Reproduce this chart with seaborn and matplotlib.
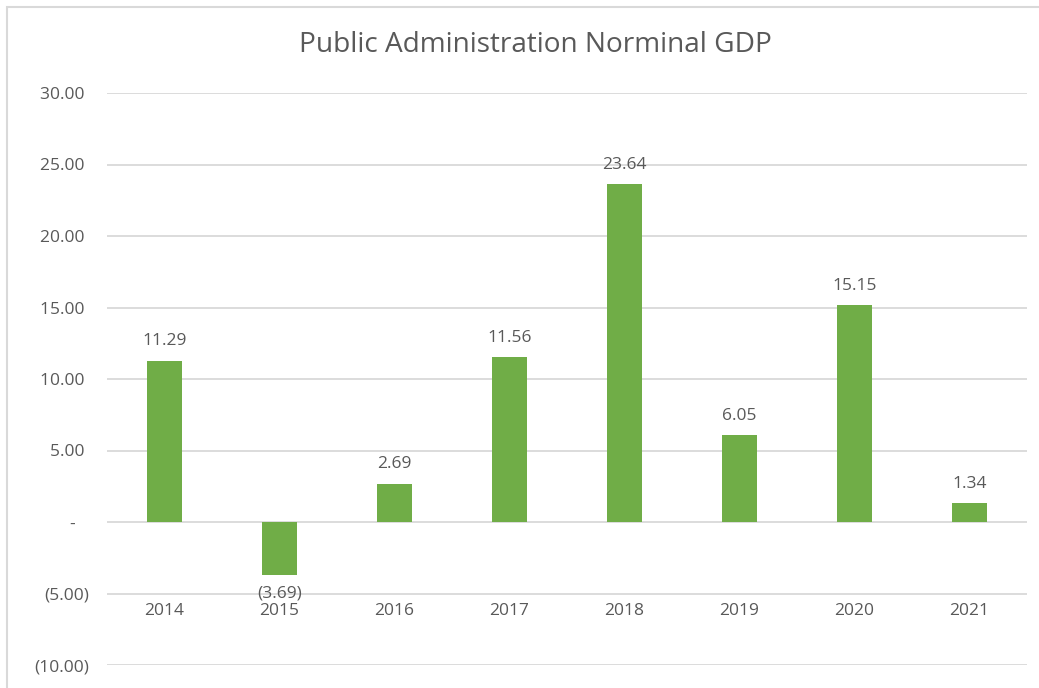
import matplotlib
matplotlib.use("Agg")
import matplotlib.pyplot as plt
import matplotlib.ticker as mticker
from matplotlib.patches import Rectangle
import seaborn as sns
import pandas as pd

# Data
years = ["2014", "2015", "2016", "2017", "2018", "2019", "2020", "2021"]
growth = [11.29, -3.69, 2.69, 11.56, 23.64, 6.05, 15.15, 1.34]
y_ticks = [-10, -5, 0, 5, 10, 15, 20, 25, 30]
title = "Public Administration Norminal GDP"

sns.set_theme(style="white")
plt.rcParams["font.family"] = ["Open Sans", "DejaVu Sans"]

TEXT = "#595959"
GRID = "#d9d9d9"
GREEN = "#70ad47"

df = pd.DataFrame({"year": years, "value": growth})

fig = plt.figure(figsize=(10.39, 6.88), dpi=100)
ax = fig.add_axes([107 / 1039, 1 - 665 / 688, 920 / 1039, (665 - 93) / 688])

sns.barplot(data=df, x="year", y="value", color=GREEN, width=0.30,
            saturation=1, ax=ax, edgecolor="none")

ax.set_ylim(-10, 30)
ax.set_xlim(-0.5, len(years) - 0.5)
ax.set_yticks(y_ticks)


def acct(v, pos=None):
    """Accounting style: zero as a dash, negatives in parentheses."""
    if abs(v) < 1e-9:
        return "-"
    if v < 0:
        return f"({abs(v):.2f})"
    return f"{v:.2f}"


def acct_axis(v, pos=None):
    # pad so the digits line up with the closing parenthesis column
    s = acct(v)
    if s == "-":
        return s + "   "
    if v > 0:
        return s + " "
    return s


ax.yaxis.set_major_formatter(mticker.FuncFormatter(acct_axis))
ax.yaxis.grid(True, color=GRID, linewidth=1.3)
ax.set_axisbelow(True)
for s in ax.spines.values():
    s.set_visible(False)
ax.tick_params(axis="y", length=0, pad=13, labelsize=12.5, labelcolor=TEXT)
ax.set_xticks([])
ax.set_xlabel("")
ax.set_ylabel("")

# category labels sit just below the -5 line
for i, yr in enumerate(years):
    ax.text(i, -6.25, yr, ha="center", va="center", fontsize=12.5, color=TEXT)

# value labels
for i, v in enumerate(growth):
    if v >= 0:
        ax.annotate(acct(v), (i, v), xytext=(0, 8), textcoords="offset points",
                    ha="center", va="bottom", fontsize=12.5, color=TEXT)
    else:
        ax.annotate(acct(v), (i, v), xytext=(0, -8), textcoords="offset points",
                    ha="center", va="top", fontsize=12.5, color=TEXT)

fig.text(535 / 1039, 1 - 45 / 688, title, ha="center", va="center",
         fontsize=20.2, color=TEXT)

# outer chart frame
fig.patches.append(Rectangle((7 / 1039, -0.1), 1.2, 1 - 7 / 688 + 0.1,
                             transform=fig.transFigure, fill=False,
                             edgecolor="#d9d9d9", linewidth=1.5, zorder=0))

fig.savefig("out.png", dpi=100, facecolor="white")
